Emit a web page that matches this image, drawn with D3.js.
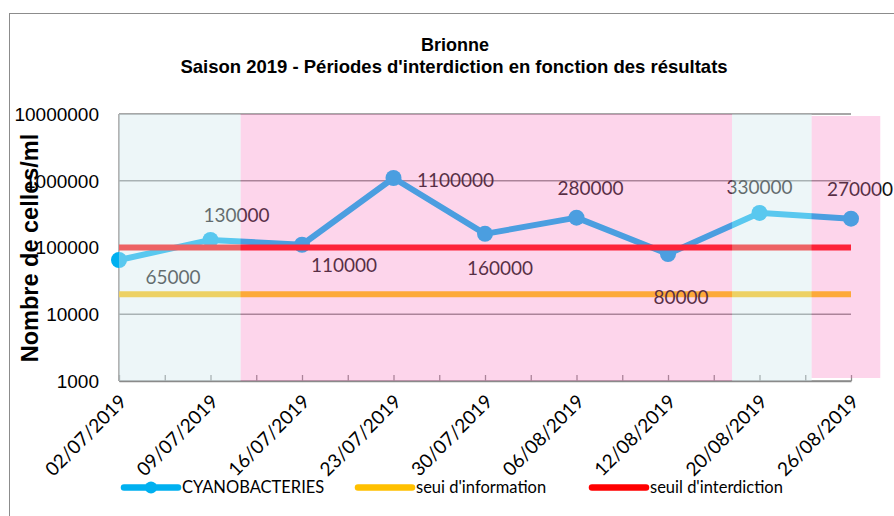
<!DOCTYPE html>
<html>
<head>
<meta charset="utf-8">
<script src="https://cdn.jsdelivr.net/npm/d3@7"></script>
<style>
  body { margin: 0; background: #fff; }
  svg { display: block; }
</style>
</head>
<body>
<svg id="chart"></svg>
<script>
// données
var dates = ["02/07/2019", "09/07/2019", "16/07/2019", "23/07/2019", "30/07/2019",
             "06/08/2019", "12/08/2019", "20/08/2019", "26/08/2019"];
var cyano = [65000, 130000, 110000, 1100000, 160000, 280000, 80000, 330000, 270000];
var seuilInformation = 20000;
var seuilInterdiction = 100000;
var yTicks = [1000, 10000, 100000, 1000000, 10000000];
// périodes (en index de prélèvement) : ouvert / interdit
var periodeDebut = [0, 1.33, 6.7, 7.57];
var periodeFin   = [1.33, 6.7, 7.57, 8.32];
var periodeType  = ["ouvert", "interdit", "ouvert", "interdit"];

// placement des étiquettes (dx, dy en px par rapport au point)
var labelOffset = [[54, 17], [26, -25], [42, 21], [62, 2], [15, 34], [14, -29], [13, 43], [0, -26], [9, -29]];

var size = { width: 894, height: 516 };
var plot = { left: 119, right: 851, top: 114, bottom: 381 };

var svg = d3.select("#chart")
  .attr("width", size.width)
  .attr("height", size.height);

// cadre
svg.append("rect")
  .attr("x", 9.5).attr("y", 13.5)
  .attr("width", 1000).attr("height", 1000)
  .attr("fill", "#fff")
  .attr("stroke", "#8c8c8c");

var x = d3.scaleLinear().domain([0, dates.length - 1]).range([plot.left, plot.right]);
var y = d3.scaleLog().domain([1000, 10000000]).range([plot.bottom, plot.top]);

// titres
svg.append("text")
  .attr("x", 455).attr("y", 51)
  .attr("text-anchor", "middle")
  .style("font", "bold 18px 'Liberation Sans', Arial, sans-serif")
  .text("Brionne");
svg.append("text")
  .attr("x", 454).attr("y", 73)
  .attr("text-anchor", "middle")
  .style("font", "bold 18.5px 'Liberation Sans', Arial, sans-serif")
  .text("Saison 2019 - Périodes d'interdiction en fonction des résultats");

// grille
svg.append("g")
  .selectAll("line")
  .data(yTicks)
  .join("line")
    .attr("x1", plot.left).attr("x2", plot.right)
    .attr("y1", function(d){ return y(d); })
    .attr("y2", function(d){ return y(d); })
    .attr("stroke", "#8a8a8a")
    .attr("stroke-width", 1.3);

// axe vertical
svg.append("line")
  .attr("x1", plot.left).attr("x2", plot.left)
  .attr("y1", plot.top).attr("y2", plot.bottom)
  .attr("stroke", "#8a8a8a").attr("stroke-width", 1.3);

// axe horizontal (graduations vers le haut)
var xAxis = d3.axisBottom(x)
  .tickValues(d3.range(0, dates.length - 0.99, 0.5))
  .tickSize(-6)
  .tickSizeOuter(0)
  .tickFormat("");
svg.append("g")
  .attr("transform", "translate(0," + plot.bottom + ")")
  .call(xAxis)
  .call(function(g){
    g.select(".domain").attr("stroke", "#8a8a8a").attr("stroke-width", 1.5);
    g.selectAll(".tick line").attr("stroke", "#8a8a8a").attr("stroke-width", 1.3);
  });

// libellés axe Y
svg.append("g")
  .selectAll("text")
  .data(yTicks)
  .join("text")
    .attr("x", 99)
    .attr("y", function(d){ return y(d); })
    .attr("dy", "0.36em")
    .attr("text-anchor", "end")
    .style("font", "19px 'Liberation Sans', Arial, sans-serif")
    .text(function(d){ return d3.format("d")(d); });

// libellés dates
svg.append("g")
  .selectAll("text")
  .data(dates)
  .join("text")
    .attr("transform", function(d, i){ return "translate(" + (x(i) + 4) + ",398) rotate(-45)"; })
    .attr("dy", "0.35em")
    .attr("text-anchor", "end")
    .style("font", "19px Lato, 'Open Sans', sans-serif")
    .text(function(d){ return d; });

// série cyanobactéries
var line = d3.line()
  .x(function(d, i){ return x(i); })
  .y(function(d){ return y(d); });

svg.append("path")
  .datum(cyano)
  .attr("fill", "none")
  .attr("stroke", "#00b0f0")
  .attr("stroke-width", 6)
  .attr("stroke-linejoin", "round")
  .attr("d", line);

svg.append("g")
  .selectAll("circle")
  .data(cyano)
  .join("circle")
    .attr("cx", function(d, i){ return x(i); })
    .attr("cy", function(d){ return y(d); })
    .attr("r", 8)
    .attr("fill", "#00b0f0");

// seuils
svg.append("line")
  .attr("x1", x(0)).attr("x2", x(dates.length - 1))
  .attr("y1", y(seuilInformation)).attr("y2", y(seuilInformation))
  .attr("stroke", "#ffc000").attr("stroke-width", 6);
svg.append("line")
  .attr("x1", x(0)).attr("x2", x(dates.length - 1))
  .attr("y1", y(seuilInterdiction)).attr("y2", y(seuilInterdiction))
  .attr("stroke", "#ff0000").attr("stroke-width", 6);

// étiquettes de valeurs
svg.append("g")
  .selectAll("text")
  .data(cyano)
  .join("text")
    .attr("x", function(d, i){ return x(i) + labelOffset[i][0]; })
    .attr("y", function(d, i){ return y(d) + labelOffset[i][1]; })
    .attr("dy", "0.35em")
    .attr("text-anchor", "middle")
    .attr("fill", "#111")
    .style("font", "19px Lato, 'Open Sans', sans-serif")
    .text(function(d){ return d; });

// périodes (calques semi-transparents par-dessus)
svg.append("g")
  .selectAll("rect")
  .data(periodeType)
  .join("rect")
    .attr("x", function(d, i){ return x(periodeDebut[i]); })
    .attr("width", function(d, i){ return x(periodeFin[i]) - x(periodeDebut[i]); })
    .attr("y", function(d, i){ return i == 3 ? plot.top + 2 : plot.top; })
    .attr("height", function(d, i){ return i == 3 ? plot.bottom - plot.top - 5 : plot.bottom - plot.top; })
    .attr("fill", function(d){ return d == "interdit" ? "rgb(250,115,188)" : "rgb(212,233,238)"; })
    .attr("fill-opacity", function(d){ return d == "interdit" ? 0.3 : 0.42; });

// titre axe Y
svg.append("text")
  .attr("transform", "translate(38,248) rotate(-90)")
  .attr("text-anchor", "middle")
  .style("font", "bold 23.5px 'Liberation Sans', Arial, sans-serif")
  .text("Nombre de celles/ml");

// légende
var legend = [
  { name: "CYANOBACTERIES", color: "#00b0f0", x: 124, marker: true },
  { name: "seui d'information", color: "#ffc000", x: 358, marker: false },
  { name: "seuil d'interdiction", color: "#ff0000", x: 592, marker: false }
];
var lg = svg.append("g").selectAll("g").data(legend).join("g")
  .attr("transform", function(d){ return "translate(" + d.x + ",487.5)"; });
lg.append("line")
  .attr("x1", 0).attr("x2", 54)
  .attr("stroke", function(d){ return d.color; })
  .attr("stroke-width", 6.5)
  .attr("stroke-linecap", "round");
lg.filter(function(d){ return d.marker; })
  .append("circle")
  .attr("cx", 27).attr("r", 6)
  .attr("fill", function(d){ return d.color; });
lg.append("text")
  .attr("x", 58)
  .attr("dy", "0.35em")
  .style("font", "16.5px Lato, 'Open Sans', sans-serif")
  .text(function(d){ return d.name; });
</script>
</body>
</html>
